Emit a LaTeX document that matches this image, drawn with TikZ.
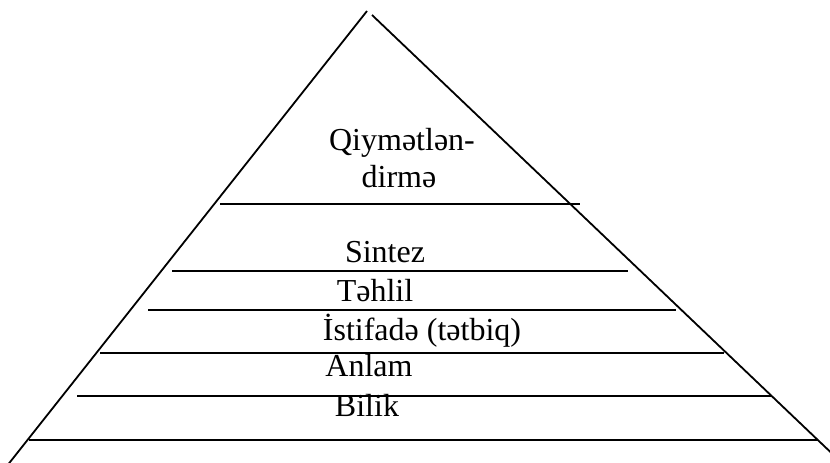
\documentclass[tikz,border=0pt]{standalone}
\usepackage{fontspec}
\setmainfont{Liberation Serif}
\begin{document}
\begin{tikzpicture}[x=1pt,y=-1pt,
  ln/.style={line width=1.8pt},
  lbl/.style={anchor=base, inner sep=0pt, font=\fontsize{32}{38}\selectfont}]
\useasboundingbox (0,0) rectangle (830,463);
\begin{scope}
  \clip (0,0) rectangle (830,463);
  \draw[ln] (367,11) -- (8.5,464);
  \draw[ln] (372,15) -- (843,464);
\end{scope}
\draw[ln] (220,204) -- (580,204);
\draw[ln] (172,271) -- (628,271);
\draw[ln] (148,310) -- (676,310);
\draw[ln] (100,353) -- (724,353);
\draw[ln] (77,396) -- (772,396);
\draw[ln] (29,440) -- (818,440);
\node[lbl] (q1) at (402,150) {Qiymətlən-};
\node[lbl] (q2) at (399,187) {dirmə};
\node[lbl] (sin) at (385,262.3) {Sintez};
\node[lbl] (teh) at (375,301.7) {Təhlil};
\node[lbl] (ist) at (422,340) {İstifadə (tətbiq)};
\node[lbl] (anl) at (369,376.7) {Anlam};
\node[lbl] (bil) at (367,416.7) {Bilik};
\end{tikzpicture}
\end{document}
